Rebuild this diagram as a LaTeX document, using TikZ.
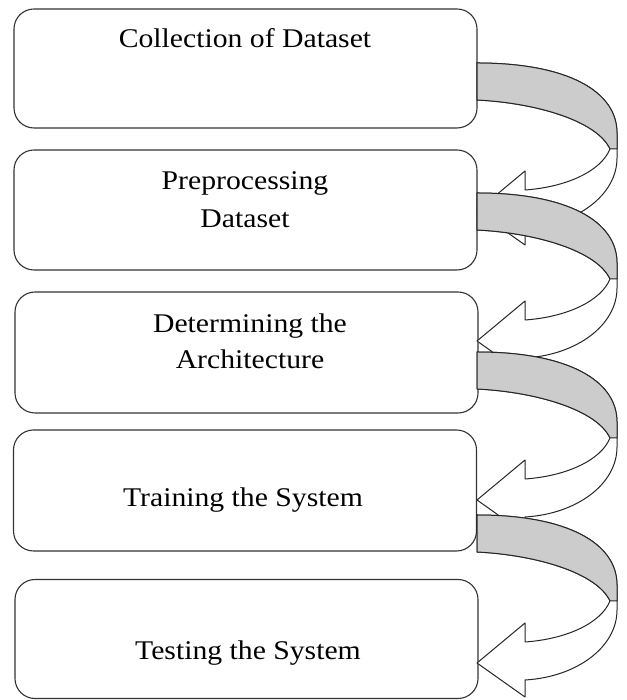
\documentclass[tikz,border=0pt]{standalone}
\usepackage{fontspec}
\setmainfont[FakeStretch=1.1]{Liberation Serif}
\begin{document}
\begin{tikzpicture}[x=1pt,y=1pt,
  stepbox/.style={draw=black!80,line width=1.1pt,rounded corners=20pt,fill=white,minimum width=463pt,inner sep=0pt},
  lbl/.style={font=\fontsize{27}{38}\selectfont,align=center,inner sep=0pt},
  arrowline/.style={draw=black!85,line width=1pt,line join=round}]
\useasboundingbox (0,0) rectangle (626,700);
% boxes (image coords: x 14-477)
\node[stepbox,minimum height=119pt] (b1) at (245.5,631.5) {};
\node[stepbox,minimum height=120pt] (b2) at (245.5,490) {};
\node[stepbox,minimum height=121pt] (b3) at (246.5,347.5) {};
\node[stepbox,minimum height=121pt] (b4) at (245,209.5) {};
\node[stepbox,minimum height=119pt] (b5) at (246.5,61) {};
% labels
\node[lbl,anchor=base] (t1) at (245,652) {Collection of Dataset};
\node[lbl,anchor=base] (t2a) at (245,510) {Preprocessing};
\node[lbl,anchor=base] (t2b) at (245,472) {Dataset};
\node[lbl,anchor=base] (t3a) at (250,367) {Determining the};
\node[lbl,anchor=base] (t3b) at (250,331) {Architecture};
\node[lbl,anchor=base] (t4) at (243,193) {Training the System};
\node[lbl,anchor=base] (t5) at (248,40) {Testing the System};
% curved arrows
\newcommand{\curvedarrowshape}[1]{%
\begin{scope}[shift={(477,#1)}]
\filldraw[arrowline,fill=white] (0,0)
  .. controls (90,0) and (140,-28) .. (140,-70)
  -- (140,-95)
  .. controls (140,-132) and (100,-162) .. (48,-165)
  -- (48,-182) -- (0,-148) -- (48,-108) -- (48,-127)
  .. controls (90,-124) and (124,-108) .. (133,-86)
  .. controls (120,-58) and (60,-40) .. (0,-37)
  -- cycle;
\filldraw[arrowline,fill=gray!40] (0,0)
  .. controls (90,0) and (140,-28) .. (140,-70)
  -- (140,-86) -- (133,-86)
  .. controls (120,-58) and (60,-40) .. (0,-37)
  -- cycle;
\end{scope}}
\curvedarrowshape{637}
\curvedarrowshape{507}
\curvedarrowshape{348}
\curvedarrowshape{185}
\end{tikzpicture}
\end{document}
